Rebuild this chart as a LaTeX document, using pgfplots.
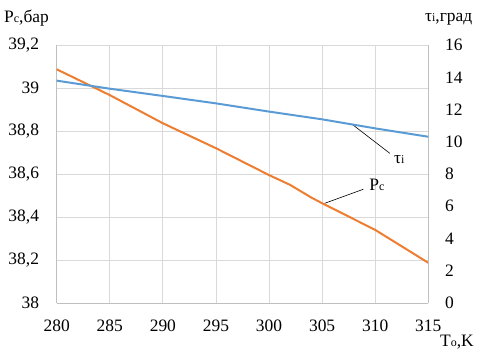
\documentclass[border=0pt]{standalone}
\usepackage{fontspec}
\setmainfont{Liberation Serif}
\usepackage{pgfplots}
\pgfplotsset{compat=1.18}
\definecolor{pcorange}{HTML}{ED7D31}
\definecolor{taublue}{HTML}{5B9BD5}
\definecolor{gridgray}{HTML}{D9D9D9}
\definecolor{framegray}{HTML}{BFBFBF}
\newcommand{\sub}[1]{{\fontsize{12}{12}\selectfont #1}}
\begin{document}
\begin{tikzpicture}[font=\fontsize{17.5}{21}\selectfont]
\path[use as bounding box] (-56.7bp,-52bp) rectangle (428.3bp,303bp);
\pgfplotsset{
  every axis/.append style={
    scale only axis, width=371.6bp, height=258bp,
    at={(0,0)}, anchor=south west,
    xmin=280, xmax=315,
    /pgf/number format/assume math mode=true,
    /pgf/number format/use comma,
    tick label style={font=\fontsize{17.5}{21}\selectfont},
    major tick length=0pt,
    clip=false,
  }
}
\begin{axis}[
  ymin=38, ymax=39.2,
  ytick={38,38.2,38.4,38.6,38.8,39,39.2},
  xtick={280,285,290,295,300,305,310,315},
  grid=major,
  major grid style={gridgray, line width=0.75bp},
  axis line style={framegray, line width=0.75bp},
  yticklabel style={anchor=east, inner sep=0pt, xshift=-17.5bp},
  xticklabel style={anchor=north, inner sep=0pt, yshift=-17bp},
  axis y line*=left, axis x line*=bottom,
]
\addplot[pcorange, line width=2bp] coordinates {
  (280,39.087) (285,38.967) (290,38.836) (295,38.720) (300,38.595)
  (302,38.549) (304,38.490) (305,38.464) (310,38.340) (315,38.187)
};
\draw[black, line width=0.6bp] (axis cs:307.78,38.833) -- (axis cs:311.38,38.696);
\draw[black, line width=0.6bp] (axis cs:305.26,38.464) -- (axis cs:308.88,38.529);
\node[anchor=base west, inner sep=0pt] at (axis cs:311.77,38.651) {τ\sub{i}};
\node[anchor=base west, inner sep=0pt] at (axis cs:309.44,38.522) {P\sub{c}};
\node[anchor=base west, inner sep=0pt] at (axis description cs:-0.1418,1.089) {P\sub{c},бар};
\node[anchor=base west, inner sep=0pt] at (axis description cs:0.991,1.093) {τ\sub{i},град};
\node[anchor=base west, inner sep=0pt] at (axis description cs:1.0315,-0.1667) {T\sub{o},K};
\end{axis}
\begin{axis}[
  ymin=0, ymax=16,
  ytick={0,2,4,6,8,10,12,14,16},
  axis y line*=right,
  axis x line=none,
  axis line style={framegray, line width=0.75bp},
  yticklabel style={anchor=west, inner sep=0pt, xshift=16.7bp},
]
\addplot[taublue, line width=2bp] coordinates {
  (280,13.79) (285,13.29) (290,12.84) (295,12.38) (300,11.87)
  (305,11.39) (310,10.83) (315,10.31)
};
\end{axis}
\end{tikzpicture}
\end{document}
